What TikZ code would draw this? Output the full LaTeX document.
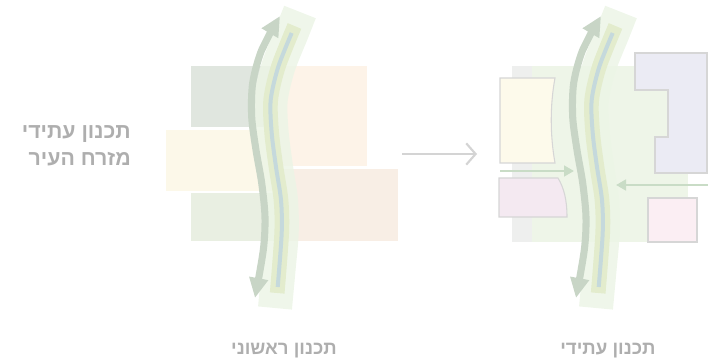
\documentclass[tikz,border=0pt]{standalone}
\usepackage{fontspec}
\newfontfamily\hebfont[Script=Hebrew]{Liberation Sans Bold}
\TeXXeTstate=1
\usetikzlibrary{arrows.meta}
\definecolor{rTL}{HTML}{E0E6DF}
\definecolor{rTR}{HTML}{FDF3E8}
\definecolor{rML}{HTML}{FCF8E9}
\definecolor{rBR}{HTML}{F8EEE5}
\definecolor{rBL}{HTML}{E9EFE2}
\definecolor{bandc}{HTML}{ECF5E6}
\definecolor{stripc}{HTML}{E3ECCD}
\definecolor{bluec}{HTML}{C5D9DC}
\definecolor{darkarr}{HTML}{C8D5C6}
\definecolor{txtc}{HTML}{AEAEAE}
\definecolor{midarr}{HTML}{D4D4D4}
\definecolor{bgc}{HTML}{EEF5E8}
\definecolor{grayc}{HTML}{EEEFEE}
\definecolor{yelc}{HTML}{FDFAEB}
\definecolor{pinkc}{HTML}{F4E9F1}
\definecolor{lavc}{HTML}{EBEBF4}
\definecolor{pink2c}{HTML}{FBEEF3}
\definecolor{edgec}{HTML}{D6D6D6}
\definecolor{grarr}{HTML}{C9DCC6}
\tikzset{
  band/.style={draw=bandc, line width=25.5pt, opacity=0.85, line cap=butt},
  strip/.style={draw=stripc, line width=11pt, line cap=butt},
  blueline/.style={draw=bluec, line width=3pt, line cap=butt},
  darkline/.style={draw=darkarr, line width=5.3pt, {Triangle[length=15pt,width=13.5pt]}-{Triangle[length=15pt,width=13.5pt]}},
  greenarr/.style={draw=grarr, line width=2.2pt, -{Triangle[length=7.5pt,width=8pt]}},
  boxedge/.style={draw=edgec, line width=0.8pt},
  lbl/.style={text=txtc, font=\hebfont\fontsize{16}{19}\selectfont, inner sep=0pt},
  sublbl/.style={text=txtc, font=\hebfont\fontsize{14}{16}\selectfont, inner sep=0pt}
}
\newcommand\drawriver{%
  \draw[band] plot[smooth] coordinates {(300,12) (291.7,33) (278.3,66.7) (270.7,100) (271.7,133) (276,167) (281,200) (281.7,233) (278.5,270) (275,308)};
  \draw[darkline] plot[smooth] coordinates {(280,16) (261.7,50) (252.7,83) (251.7,117) (256,150) (261.7,183) (265,217) (263.3,250) (255,298)};
  \draw[strip] plot[smooth] coordinates {(294.5,26) (278.3,66.7) (270.7,100) (271.7,133) (276,167) (281,200) (281.7,233) (277.2,293)};
  \draw[blueline] plot[smooth] coordinates {(291.7,33) (278.3,66.7) (270.7,100) (271.7,133) (276,167) (281,200) (281.7,233) (277.7,287)};
}
\begin{document}
\begin{tikzpicture}[x=0.75pt,y=-0.75pt]
\useasboundingbox (0,0) rectangle (708,360);
% left panel blocks
\fill[rTL] (191,66) rectangle (276,127);
\fill[rTR] (276,66) rectangle (367,166);
\fill[rML] (166,130) rectangle (274,191);
\fill[rBR] (280,169) rectangle (398,241);
\fill[rBL] (191,193) rectangle (278,241);
\drawriver
% right panel
\fill[bgc] (512,66) rectangle (688,242);
\fill[grayc] (512,66) rectangle (532,242);
\draw[boxedge, fill=yelc] (500,78) -- (555,78) .. controls (550,105) and (550,135) .. (555,163) -- (500,163) -- cycle;
\draw[boxedge, fill=pinkc] (499,178) -- (558,178) .. controls (564,188) and (567,200) .. (567,217) -- (499,217) -- cycle;
\draw[boxedge, fill=lavc] (635,53) -- (707,53) -- (707,173) -- (655,173) -- (655,137) -- (668,137) -- (668,90) -- (635,90) -- cycle;
\draw[boxedge, fill=pink2c] (648,198) rectangle (697,242);
\begin{scope}[shift={(321,0)}]
\drawriver
\end{scope}
\coordinate (ga1) at (500,171);
\coordinate (ga2) at (574,171);
\coordinate (gb1) at (708,185);
\coordinate (gb2) at (616,185);
\draw[greenarr] (ga1) -- (ga2);
\draw[greenarr] (gb1) -- (gb2);
% middle arrow
\coordinate (ma1) at (402,154);
\coordinate (ma2) at (477,154);
\draw[draw=midarr, line width=1.6pt, -{Straight Barb[length=7pt,width=16pt,line width=1.6pt]}] (ma1) -- (ma2);
% texts
\node[lbl, anchor=east] (t1) at (131,134) {\beginR תכנון עתידי\endR};
\node[lbl, anchor=east] (t2) at (131,159) {\beginR מזרח העיר\endR};
\node[sublbl] (b1) at (284,351) {\beginR תכנון ראשוני\endR};
\node[sublbl] (b2) at (608,351) {\beginR תכנון עתידי\endR};
\end{tikzpicture}
\end{document}
